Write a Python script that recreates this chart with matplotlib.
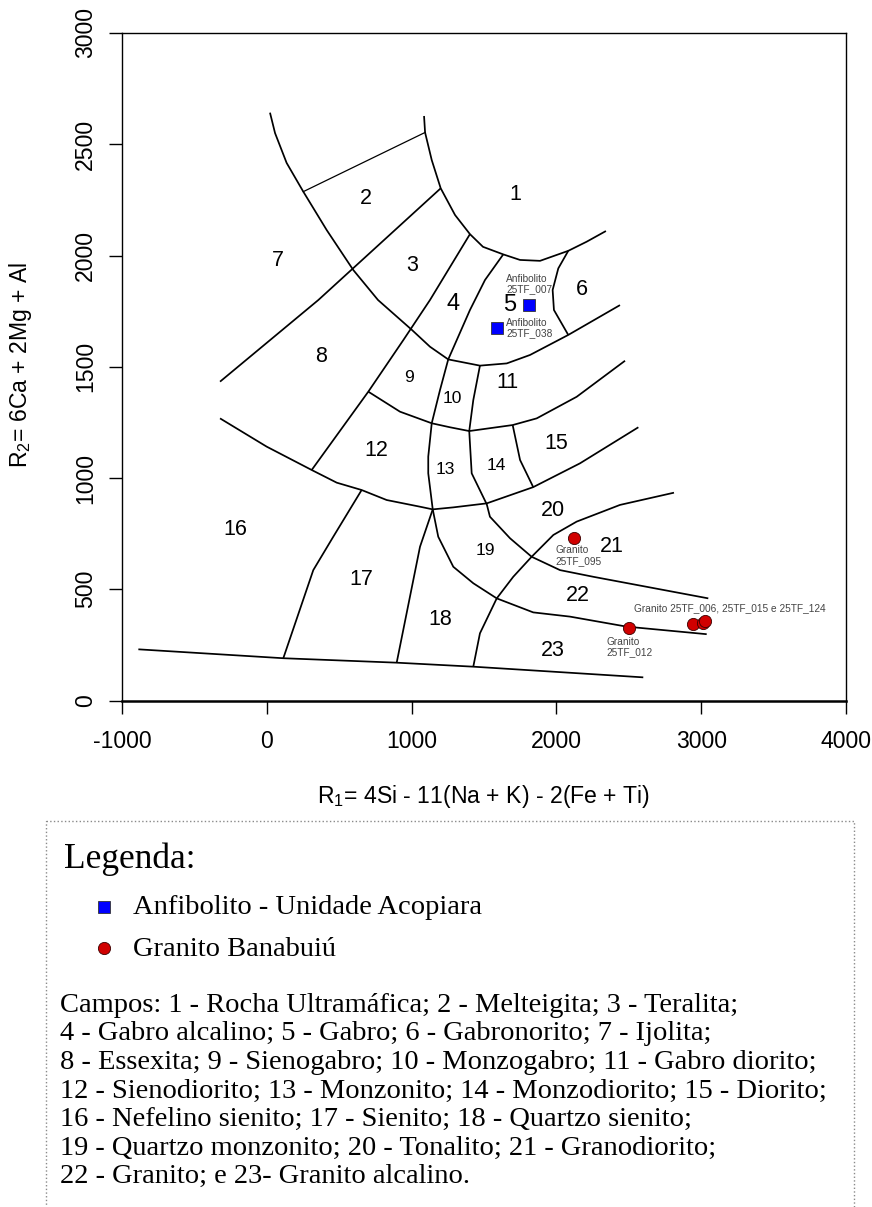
import numpy as np
import matplotlib.pyplot as plt
from matplotlib.patches import Rectangle

plt.rcParams['font.family'] = ['Liberation Sans', 'DejaVu Sans']
plt.rcParams['mathtext.fontset'] = 'custom'
plt.rcParams['mathtext.rm'] = 'Liberation Sans'
plt.rcParams['mathtext.it'] = 'Liberation Sans:italic'
plt.rcParams['axes.unicode_minus'] = False

# field boundaries of the R1-R2 diagram (R1, R2)
arc_outer_x = [22, 57, 137, 252, 414, 597, 768, 1003, 1127, 1253, 1472, 1657, 1818, 2082, 2439]
arc_outer_y = [2642, 2550, 2416, 2287, 2114, 1935, 1800, 1665, 1590, 1533, 1505, 1515, 1553, 1643, 1777]
arc_inner_x = [1086, 1093, 1139, 1201, 1300, 1403, 1493, 1633, 1749, 1887, 2082, 2209, 2342]
arc_inner_y = [2627, 2553, 2429, 2302, 2182, 2096, 2039, 2005, 1980, 1976, 2021, 2062, 2110]
top2_x = [252, 1093]
top2_y = [2287, 2553]
l78_x = [1201, 356, -323]
l78_y = [2302, 1800, 1433]
l34_x = [1403, 1127, 943, 701, 310]
l34_y = [2096, 1800, 1620, 1388, 1036]
l45_x = [1633, 1507, 1403, 1253, 1196, 1139, 1115, 1115, 1146, 1184, 1288, 1426, 1588, 1840, 2094, 2485, 3038]
l45_y = [2005, 1890, 1755, 1533, 1395, 1246, 1096, 1021, 859, 736, 601, 527, 459, 396, 377, 332, 298]
l1011_x = [1472, 1426, 1398, 1415, 1519, 1541, 1680, 1829, 2025, 2255, 3049]
l1011_y = [1505, 1350, 1211, 1021, 882, 826, 729, 646, 586, 556, 459]
cc_x = [701, 920, 1139, 1265, 1398, 1698, 1864, 2140, 2474]
cc_y = [1388, 1298, 1246, 1228, 1211, 1238, 1268, 1365, 1527]
cd_x = [-323, -1, 310, 483, 655, 828, 1058, 1146, 1288, 1519, 1840, 2163, 2566]
cd_y = [1268, 1141, 1036, 979, 946, 901, 871, 859, 868, 886, 959, 1066, 1228]
ce_x = [2812, 2439, 2140, 1979, 1829, 1702, 1588, 1472, 1426]
ce_y = [934, 879, 804, 744, 646, 556, 459, 302, 152]
l1415_x = [1698, 1749, 1840]
l1415_y = [1238, 1081, 959]
c6_x = [2082, 2013, 1974, 1983, 2082]
c6_y = [2021, 1942, 1845, 1755, 1643]
l1617_x = [655, 459, 321, 114]
l1617_y = [946, 736, 586, 190]
l1718_x = [1146, 1058, 897]
l1718_y = [859, 691, 170]
base_x = [-887, 114, 897, 1426, 2600]
base_y = [230, 190, 170, 152, 104]

bounds = [(arc_outer_x, arc_outer_y), (arc_inner_x, arc_inner_y), (l78_x, l78_y),
          (l34_x, l34_y), (l45_x, l45_y), (l1011_x, l1011_y), (cc_x, cc_y), (cd_x, cd_y),
          (ce_x, ce_y), (l1415_x, l1415_y), (c6_x, c6_y), (l1617_x, l1617_y),
          (l1718_x, l1718_y), (base_x, base_y)]

# field numbers
field_no = list(range(1, 24))
field_x = [1714, 683, 1001, 1284, 1680, 2179, 79, 372, 984, 1284, 1661, 754,
           1231, 1583, 2002, -220, 655, 1201, 1507, 1974, 2382, 2151, 1974]
field_y = [2275, 2254, 1954, 1782, 1776, 1848, 1976, 1545, 1452, 1358, 1428, 1123,
           1036, 1054, 1156, 769, 542, 366, 676, 856, 694, 474, 224]
small_fields = [9, 10, 13, 14, 19]
big_fields = [4, 5]

# samples
anf_id = ['25TF_007', '25TF_038']
anf_r1 = [1811, 1588]
anf_r2 = [1776, 1673]
gra_id = ['25TF_095', '25TF_012', '25TF_006', '25TF_015', '25TF_124']
gra_r1 = [2124, 2503, 2941, 3009, 3024]
gra_r2 = [729, 326, 343, 348, 357]

campos = ['Campos: 1 - Rocha Ultramáfica; 2 - Melteigita; 3 - Teralita;',
          '4 - Gabro alcalino; 5 - Gabro; 6 - Gabronorito; 7 - Ijolita;',
          '8 - Essexita; 9 - Sienogabro; 10 - Monzogabro; 11 - Gabro diorito;',
          '12 - Sienodiorito; 13 - Monzonito; 14 - Monzodiorito; 15 - Diorito;',
          '16 - Nefelino sienito; 17 - Sienito; 18 - Quartzo sienito;',
          '19 - Quartzo monzonito; 20 - Tonalito; 21 - Granodiorito;',
          '22 - Granito; e 23- Granito alcalino.']

W, H = 872, 1207
fig = plt.figure(figsize=(W / 100, H / 100), dpi=100)
ax = fig.add_axes([122 / W, 1 - 700.5 / H, 724 / W, 667.5 / H])

for bx, by in bounds:
    ax.plot(bx, by, color='black', lw=1.25, solid_capstyle='butt')
ax.plot(top2_x, top2_y, color='black', lw=0.9)

for n, x, y in zip(field_no, field_x, field_y):
    fs = 12.5 if n in small_fields else (17 if n in big_fields else 15.5)
    ax.text(x, y, str(n), fontsize=fs, ha='center', va='center')

ax.plot(anf_r1, anf_r2, 's', ms=8, color='#0000ff', mec='#333333', mew=0.6, zorder=5)
ax.plot(gra_r1, gra_r2, 'o', ms=8.8, color='#d00000', mec='#3a0000', mew=0.6, zorder=5)

lab = dict(fontsize=7.3, color='#444444', textcoords='offset points', linespacing=1.05)
ax.annotate('Anfibolito\n' + anf_id[0], (anf_r1[0], anf_r2[0]), xytext=(-16.6, 15.3),
            ha='left', va='center', **lab)
ax.annotate('Anfibolito\n' + anf_id[1], (anf_r1[1], anf_r2[1]), xytext=(6.7, 0),
            ha='left', va='center', **lab)
ax.annotate('Granito\n' + gra_id[0], (gra_r1[0], gra_r2[0]), xytext=(-13.9, -12.5),
            ha='left', va='center', **lab)
ax.annotate('Granito\n' + gra_id[1], (gra_r1[1], gra_r2[1]), xytext=(-16.3, -13.8),
            ha='left', va='center', **lab)
ax.annotate('Granito %s, %s e %s' % tuple(gra_id[2:]), (gra_r1[2], gra_r2[2]),
            xytext=(-42, 11.4), ha='left', va='center', **lab)

ax.set_xlim(-1000, 4000)
ax.set_ylim(0, 3000)
ax.set_xticks(np.arange(-1000, 4001, 1000))
ax.set_yticks(np.arange(0, 3001, 500))
ax.tick_params(direction='out', length=9.4, width=1, labelsize=16.6)
ax.tick_params(axis='x', pad=12)
ax.tick_params(axis='y', pad=8.5, labelrotation=90)
for t in ax.get_yticklabels():
    t.set_va('center')
for s in ax.spines.values():
    s.set_linewidth(1)
ax.spines['bottom'].set_linewidth(1.8)

fig.text(21 / W, 1 - 365 / H, r'R$_2$= 6Ca + 2Mg + Al', rotation=90,
         ha='center', va='center', fontsize=16.6)
fig.text(484 / W, 1 - 797 / H, r'R$_1$= 4Si - 11(Na + K) - 2(Fe + Ti)',
         ha='center', va='center', fontsize=16.6)

# legend box in pixel coordinates
lax = fig.add_axes([0, 0, 1, 1])
lax.set_xlim(0, W)
lax.set_ylim(H, 0)
lax.axis('off')
lax.add_patch(Rectangle((46, 821), 808, 450, fill=False, ec='#8a8a8a', lw=1, ls=':'))
serif = ['Liberation Serif', 'DejaVu Serif']
lax.text(64, 868, 'Legenda:', fontsize=25.5, family=serif, va='baseline')
lax.plot(104, 907, 's', ms=8, color='#0000ff', mec='#333333', mew=0.6)
lax.text(133, 914, 'Anfibolito - Unidade Acopiara', fontsize=20.5, family=serif, va='baseline')
lax.plot(104, 948, 'o', ms=8.8, color='#d00000', mec='#3a0000', mew=0.6)
lax.text(133, 955.5, 'Granito Banabuiú', fontsize=20.5, family=serif, va='baseline')
for i, line in enumerate(campos):
    lax.text(60, 1012 + i * 28.5, line, fontsize=20.5, family=serif, va='baseline')

fig.savefig('out.png', dpi=100)
